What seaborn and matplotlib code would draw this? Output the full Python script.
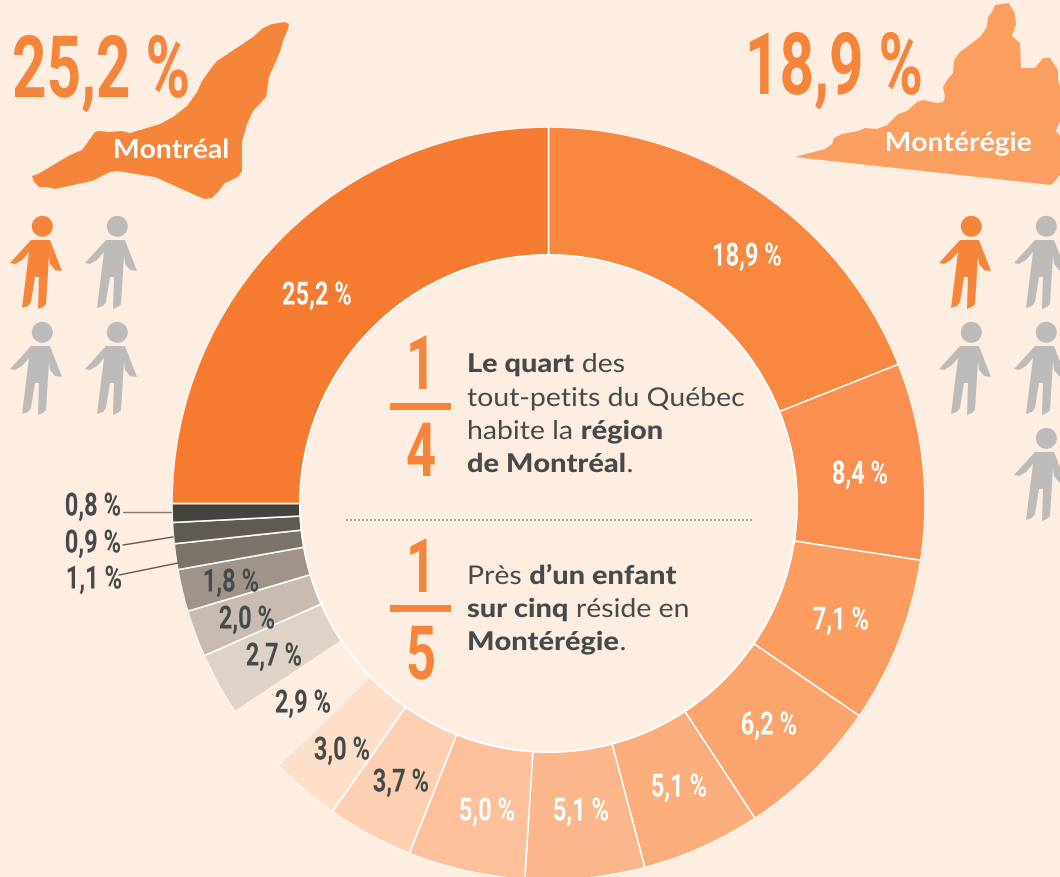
import matplotlib
matplotlib.use('Agg')
import matplotlib.pyplot as plt
from matplotlib.patches import Polygon, Circle
from matplotlib.patheffects import AbstractPathEffect
from matplotlib.transforms import Affine2D
import seaborn as sns

BG = '#FEEEE2'
ORANGE = '#F5853A'
DARK = '#454A4B'
GREY = '#BDBBB9'
NARROW = ['Roboto', 'DejaVu Sans']
BODY = ['Lato', 'DejaVu Sans']

# share of children per region, clockwise from 12 o'clock
shares = [18.9, 8.4, 7.1, 6.2, 5.1, 5.1, 5.0, 3.7, 3.0, 2.9, 2.7, 2.0, 1.8, 1.1, 0.9, 0.8, 25.2]
# the Montreal arc is drawn as a clean quarter in the picture, a bit less than its label
arc_sizes = shares[:-1] + [24.9]
slice_colors = ['#F88840', '#FA8F51', '#FB9C60', '#FBA46D', '#FCAD7C', '#FCB68B', '#FDC09B',
                '#FDD0B4', '#FEDFC9', BG, '#DFD2C7', '#C8BBB1', '#A09389', '#7C736B',
                '#5F5A52', '#45433D', '#F57B30']
label_colors = ['white'] * 7 + [DARK] * 9 + ['white']
label_x = [747, 860, 841, 769, 679, 581, 487, 401, 342, 303, 274, 247, 231, 94, 93, 93, 317]
label_y = [255, 473, 619, 724, 786, 810, 810, 781, 749, 702, 655, 618, 581, 578, 542, 505, 294]

# hand traced outlines (decoration, in pixels)
montreal_outline = [(32, 177), (38, 175), (70, 156), (82, 151), (95, 133), (99, 132), (110, 133),
                    (122, 132), (130, 134), (160, 125), (173, 118), (187, 107), (197, 93), (202, 82),
                    (212, 68), (217, 62), (253, 38), (263, 29), (272, 25), (285, 23), (289, 25),
                    (288, 30), (283, 42), (280, 53), (269, 78), (266, 98), (253, 112), (247, 125),
                    (242, 143), (242, 172), (238, 178), (225, 184), (218, 193), (212, 199), (205, 200),
                    (197, 197), (155, 178), (117, 172), (110, 173), (92, 182), (55, 190), (47, 188),
                    (39, 188), (34, 183)]
monteregie_outline = [(795, 158), (810, 154), (825, 150), (832, 145), (834, 139), (842, 135), (858, 132),
                      (865, 129), (877, 130), (887, 126), (898, 115), (907, 112), (917, 103), (923, 101),
                      (937, 104), (943, 103), (945, 98), (943, 88), (947, 81), (953, 74), (954, 61),
                      (960, 53), (980, 38), (987, 28), (988, 18), (992, 13), (995, 6), (1009, 4),
                      (1015, 15), (1016, 25), (1012, 37), (1020, 44), (1021, 69), (1035, 69), (1043, 59),
                      (1050, 59), (1058, 71), (1058, 81), (1060, 88), (1060, 122), (1056, 132), (1060, 137),
                      (1060, 176), (1051, 186)]
person_body = [(31, 241), (50, 241), (62, 272), (55, 271), (50, 265), (49, 257), (46, 305), (43, 308),
               (38, 310), (39, 278), (35, 278), (31, 303), (28, 307), (22, 309), (29, 253), (22, 261),
               (15, 265), (10, 264)]


class Stretch(AbstractPathEffect):
    # squeezes or widens the glyphs sideways around one pixel column
    def __init__(self, cx, factor):
        super().__init__()
        self.cx = cx
        self.factor = factor

    def draw_path(self, renderer, gc, tpath, affine, rgbFace=None):
        squeeze = Affine2D().translate(-self.cx, 0).scale(self.factor, 1).translate(self.cx, 0)
        renderer.draw_path(gc, tpath, affine + squeeze, rgbFace)


sns.set_theme(style='white')
fig = plt.figure(figsize=(10.6, 8.78), dpi=100, facecolor=BG)
ax = fig.add_axes([0, 0, 1, 1])
ax.set_facecolor(BG)

wedges, _ = ax.pie(arc_sizes, colors=sns.color_palette(slice_colors, len(slice_colors)), center=(548.5, 504.5),
                   radius=376.5, startangle=-90, counterclock=True,
                   wedgeprops=dict(width=128, edgecolor='white', linewidth=1.1))
wedges[9].set_edgecolor(BG)
wedges[9].set_linewidth(1.5)
wedges[9].set_zorder(1.5)
ax.set_xlim(0, 1060)
ax.set_ylim(878, 0)
ax.axis('off')
ax.add_patch(Circle((548.5, 504.5), 248.5, fc=BG, ec='white', lw=1.3, zorder=2))
ax.add_patch(Circle((548.5, 504.5), 377.5, fc='none', ec=BG, lw=1.5, zorder=2))


def narrow(x, y, txt, size, color, factor=0.74, ha='center'):
    t = ax.text(x, y, txt, fontsize=size, color=color, family=NARROW, weight='bold',
                ha=ha, va='baseline', zorder=5)
    t.set_path_effects([Stretch(x, factor)])


def rich_line(x, y, parts, size=18.6):
    # parts are (text, bold) pieces drawn one after the other
    rend = fig.canvas.get_renderer()
    for txt, bold in parts:
        factor = 1.12 if bold else 1.10
        t = ax.text(x, y, txt.replace(' ', '\u00a0'), fontsize=size, color=DARK, family=BODY,
                    weight='black' if bold else 'normal', ha='left', va='baseline', zorder=5)
        t.set_path_effects([Stretch(x, factor)])
        x += t.get_window_extent(rend).width * factor


def person(dx, dy, color):
    ax.add_patch(Polygon([(px + dx, py + dy) for px, py in person_body], fc=color, ec='none', zorder=3))
    ax.add_patch(Circle((42.3 + dx, 227.3 + dy), 10.5, fc=color, ec='none', zorder=3))


# slice labels
for val, col, lx, ly in zip(shares, label_colors, label_x, label_y):
    narrow(lx, ly + 11.5, f'{val:.1f}'.replace('.', ',') + ' %', 23, col)

# leader lines for the three thin slices
ax.plot([123, 171], [513, 513], color='#7F7C77', lw=1, zorder=4)
ax.plot([123, 173], [546, 538], color='#5F5A52', lw=1, zorder=4)
ax.plot([119, 178], [576, 564], color='#5F5A52', lw=1, zorder=4)

# region shapes and headline numbers
ax.add_patch(Polygon(montreal_outline, fc=ORANGE, ec='none', zorder=3))
ax.add_patch(Polygon(monteregie_outline, fc='#FB9F61', ec='none', zorder=1))
narrow(12, 98, '25,2 %', 62, ORANGE, factor=0.70, ha='left')
narrow(745, 95, '18,9 %', 62, ORANGE, factor=0.70, ha='left')
for name, nx, ny in [('Montréal', 171, 159), ('Montérégie', 958, 152)]:
    t = ax.text(nx, ny, name, fontsize=19, color='white', family=BODY, weight='bold', ha='center', zorder=5)
    t.set_path_effects([Stretch(nx, 1.07)])

# people
for dx, dy in [(0, 0), (75, 0), (0, 106), (75, 106)]:
    person(dx, dy, ORANGE if (dx, dy) == (0, 0) else GREY)
for dx, dy in [(0, 0), (75, 0), (0, 106), (75, 106), (75, 212)]:
    person(929 + dx, dy, ORANGE if (dx, dy) == (0, 0) else GREY)

# centre text
ax.plot([346, 752], [520.5, 520.5], color='#999691', lw=1.2, ls=(0, (1.2, 1.2)), zorder=4)
ax.fill_between([390, 451], 404, 411, color=ORANGE, lw=0, zorder=4)
ax.fill_between([390, 451], 606, 613, color=ORANGE, lw=0, zorder=4)
narrow(421, 390, '1', 54, ORANGE, factor=0.7)
narrow(421, 477, '4', 54, ORANGE, factor=0.7)
narrow(421, 593, '1', 54, ORANGE, factor=0.7)
narrow(421, 680, '5', 54, ORANGE, factor=0.7)

rich_line(467, 373, [('Le quart', True), (' des', False)])
rich_line(467, 407, [('tout-petits du Québec', False)])
rich_line(467, 440, [('habite la ', False), ('région', True)])
rich_line(467, 473, [('de Montréal', True), ('.', False)])
rich_line(467, 585, [('Près ', False), ('d’un enfant', True)])
rich_line(467, 618, [('sur cinq', True), (' réside en', False)])
rich_line(467, 651, [('Montérégie', True), ('.', False)])

fig.savefig('out.png', dpi=100, facecolor=BG)
